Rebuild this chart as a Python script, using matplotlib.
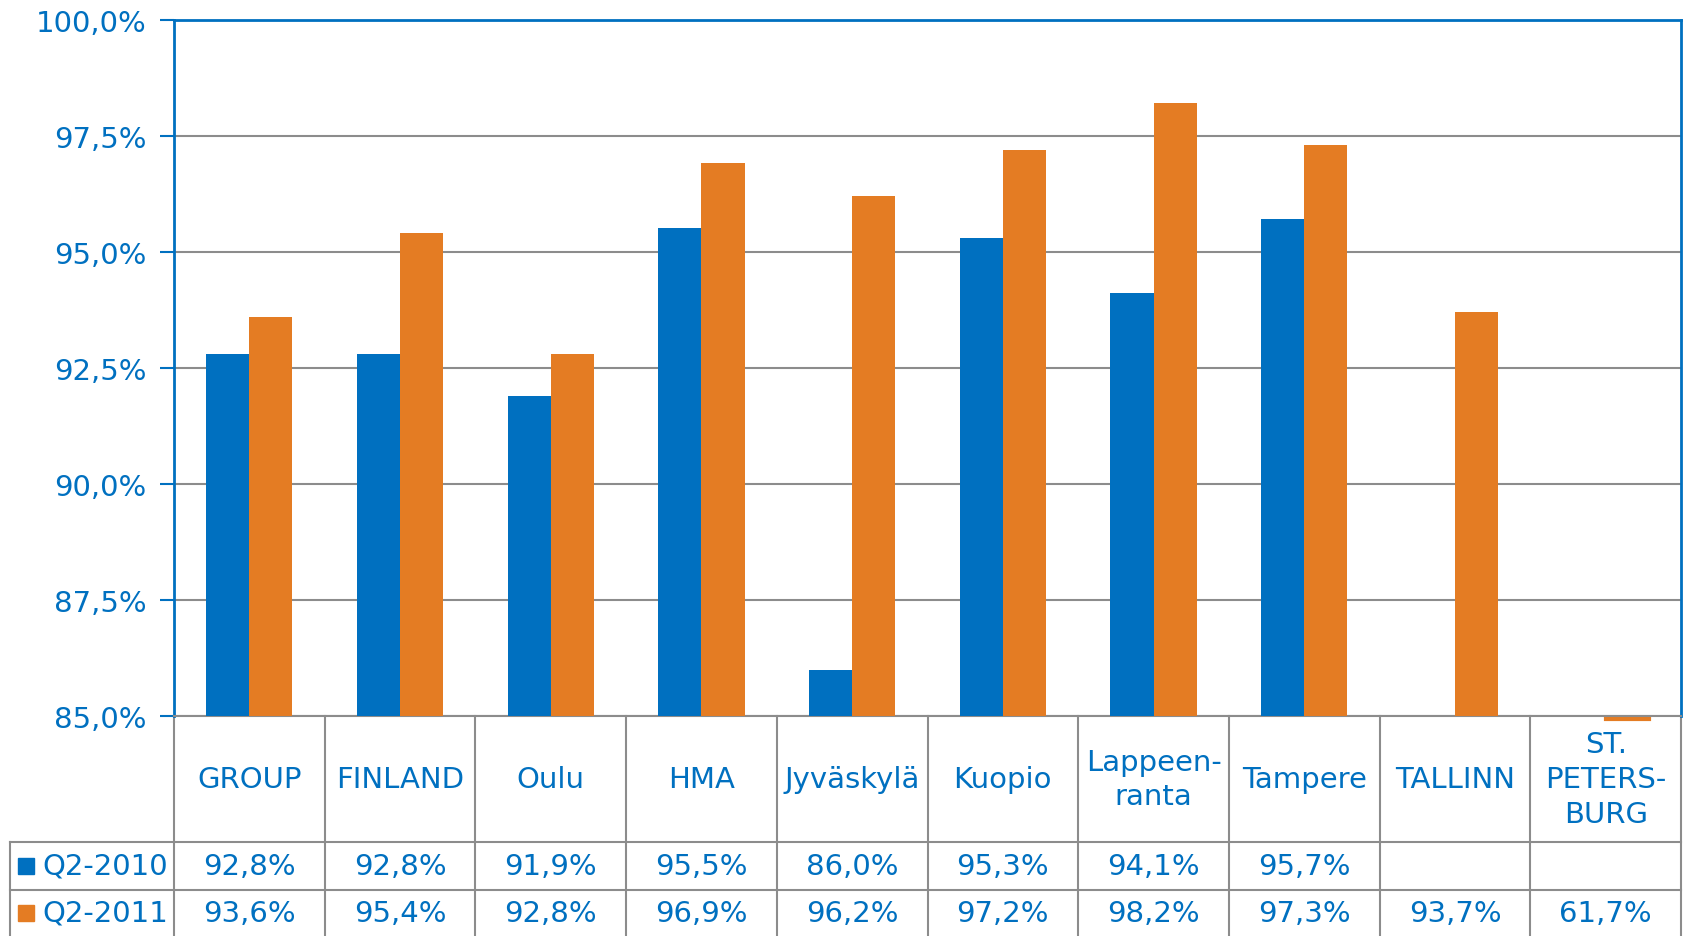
import numpy as np
import matplotlib
matplotlib.use("Agg")
import matplotlib.pyplot as plt
from matplotlib.ticker import FuncFormatter, MultipleLocator
from matplotlib.transforms import blended_transform_factory, ScaledTranslation
from matplotlib.lines import Line2D

# data
categories = ["GROUP", "FINLAND", "Oulu", "HMA", "Jyväskylä", "Kuopio",
              "Lappeen-\nranta", "Tampere", "TALLINN", "ST.\nPETERS-\nBURG"]
q2_2010 = [92.8, 92.8, 91.9, 95.5, 86.0, 95.3, 94.1, 95.7, np.nan, np.nan]
q2_2011 = [93.6, 95.4, 92.8, 96.9, 96.2, 97.2, 98.2, 97.3, 93.7, 61.7]
series_names = ["Q2-2010", "Q2-2011"]

BLUE = "#0070C0"
ORANGE = "#E47C23"
GRID = "#8C8C8C"
FS = 21

W, H = 1686, 937
fig = plt.figure(figsize=(W / 100, H / 100), dpi=100)
ax_l, ax_r, ax_t, ax_b = 174, 1681, 20.5, 717
ax = fig.add_axes([ax_l / W, (H - ax_b) / H, (ax_r - ax_l) / W, (ax_b - ax_t) / H])

x = np.arange(len(categories))
w = 0.286
ymin, ymax = 85, 100
ax.bar(x - w / 2, q2_2010, w, color=BLUE, zorder=3)
ax.bar(x + w / 2, q2_2011, w, color=ORANGE, zorder=3)

# values below the axis minimum show as a thin sliver under the axis
shift = ax.transData + ScaledTranslation(0, -3 / 100, fig.dpi_scale_trans)
for xs, vals, col in [(x - w / 2, q2_2010, BLUE), (x + w / 2, q2_2011, ORANGE)]:
    for xi, v in zip(xs, vals):
        if not np.isnan(v) and v < ymin:
            ax.plot([xi - w / 2, xi + w / 2], [ymin, ymin], color=col, lw=3,
                    clip_on=False, zorder=2, transform=shift)

ax.set_xlim(-0.5, len(categories) - 0.5)
ax.set_ylim(ymin, ymax)
ax.yaxis.set_major_locator(MultipleLocator(2.5))
ax.yaxis.set_major_formatter(FuncFormatter(lambda v, p: f"{v:.1f}%".replace(".", ",")))
ax.yaxis.grid(True, color=GRID, lw=1.5, zorder=0)
ax.set_axisbelow(True)
ax.set_xticks([])
ax.tick_params(axis="y", colors=BLUE, length=10, width=1.5, labelsize=FS, pad=10)
for s in ["left", "top", "right"]:
    ax.spines[s].set_color(BLUE)
    ax.spines[s].set_linewidth(2)
ax.spines["bottom"].set_color(GRID)
ax.spines["bottom"].set_linewidth(1.5)

# data table under the chart
trans = blended_transform_factory(ax.transData, ax.transAxes)
ax_h = ax_b - ax_t
def ya(py):
    return (ax_b - py) / ax_h

cat_w = (ax_r - ax_l) / len(categories)
tbl_left = -0.5 - (ax_l - 10) / cat_w
y_head, y_r1, y_r2 = ya(843), ya(891), ya(937)

def hline(x0, x1, y):
    ax.add_line(Line2D([x0, x1], [y, y], color=GRID, lw=1.5, transform=trans, clip_on=False))

def vline(xv, y0, y1):
    ax.add_line(Line2D([xv, xv], [y0, y1], color=GRID, lw=1.5, transform=trans, clip_on=False))

hline(tbl_left, len(categories) - 0.5, y_head)
hline(tbl_left, len(categories) - 0.5, y_r1)
vline(tbl_left, y_head, y_r2)
for i in range(len(categories) + 1):
    vline(i - 0.5, 0, y_r2)

for i, c in enumerate(categories):
    ax.text(i, (0 + y_head) / 2, c, ha="center", va="center", fontsize=FS,
            color=BLUE, transform=trans, linespacing=1.3)

for row, (vals, col, name) in enumerate([(q2_2010, BLUE, series_names[0]),
                                         (q2_2011, ORANGE, series_names[1])]):
    top = y_head if row == 0 else y_r1
    bot = y_r1 if row == 0 else y_r2
    yc = (top + bot) / 2
    for i, v in enumerate(vals):
        if not np.isnan(v):
            ax.text(i, yc, f"{v:.1f}%".replace(".", ","), ha="center", va="center",
                    fontsize=FS, color=BLUE, transform=trans)
    key_x = tbl_left + 16 / cat_w
    ax.plot([key_x], [yc], marker="s", markersize=11, color=col, transform=trans,
            clip_on=False, linestyle="none")
    ax.text(tbl_left + 32 / cat_w, yc, name, ha="left", va="center", fontsize=FS,
            color=BLUE, transform=trans)

fig.savefig("out.png", dpi=100)
